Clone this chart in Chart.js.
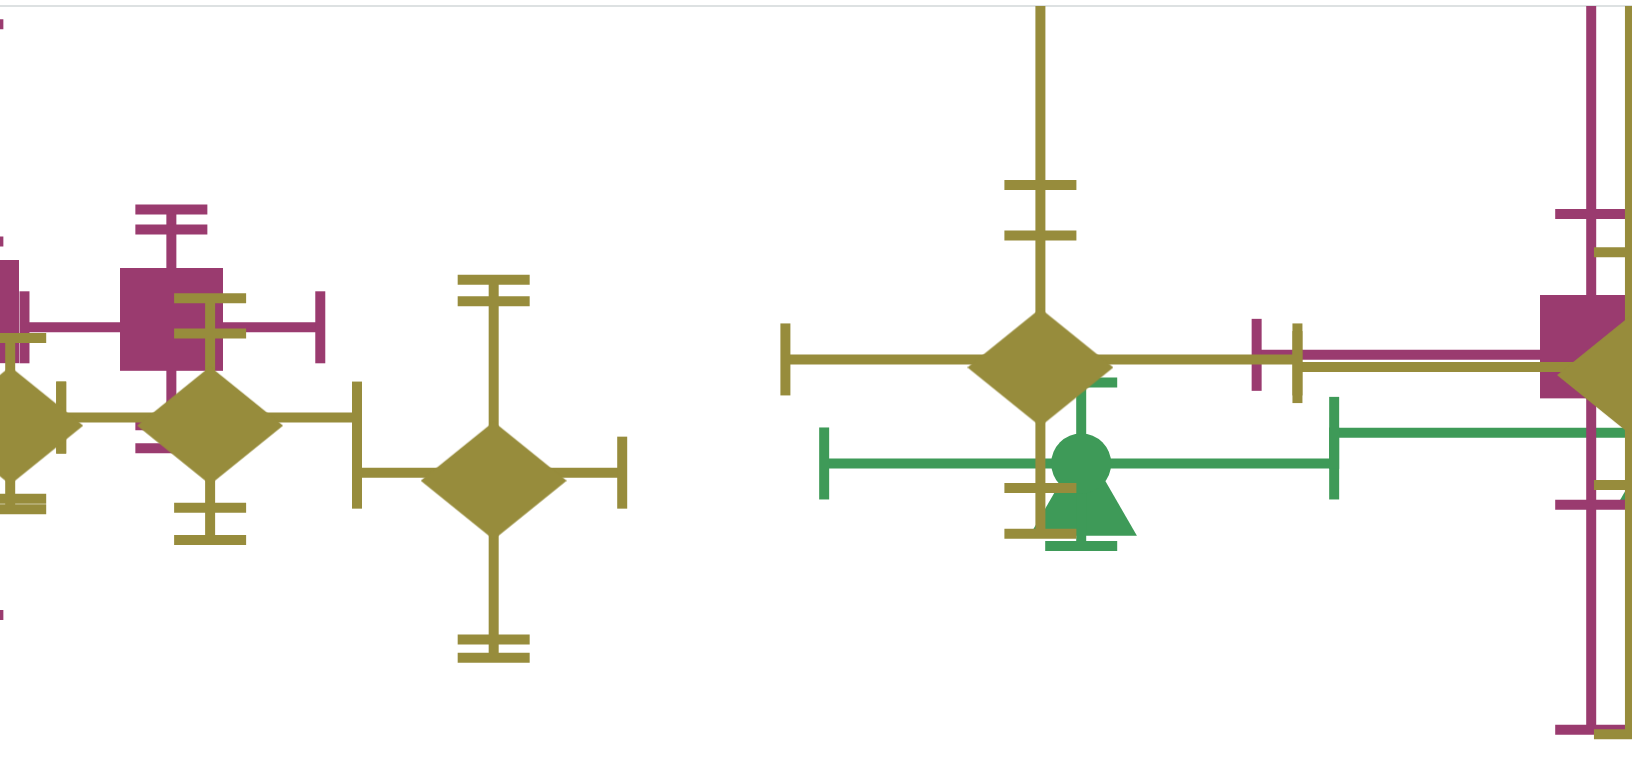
<!DOCTYPE html>
<html>
<head>
<meta charset="utf-8">
<script src="https://cdn.jsdelivr.net/npm/chart.js@4/dist/chart.umd.min.js"></script>
<style>
  html, body { margin: 0; padding: 0; background: #fff; overflow: hidden; }
  #plot { display: block; }
</style>
</head>
<body>
<canvas id="plot" width="1632" height="771"></canvas>
<script>
// olive series (diamonds)
const oliveX = [0.05, 1.03, 2.42, 5.10, 7.99];
const oliveY = [2.31, 2.31, 1.95, 2.69, 2.64];
const oliveXLow = [-0.25, 0.30, 1.75, 3.85, 6.36];
const oliveXHigh = [0.30, 1.75, 3.05, 6.36, 8.80];
const oliveYLow = [[1.78, 1.71], [1.72, 1.51], [0.86, 0.74], [1.85, 1.55], [1.87, 0.24]];
const oliveYHigh = [[2.83], [2.86, 3.09], [3.07, 3.21], [3.50, 3.83, 5.43], [3.39, 5.20]];

// wine series (squares)
const wineX = [-0.16, 0.84, 7.80];
const wineY = [2.95, 2.90, 2.72];
const wineXLow = [null, 0.12, 6.16];
const wineXHigh = [null, 1.57, 9.44];
const wineYLow = [[2.44, 1.02], [2.26, 2.11], [1.74, 0.27]];
const wineYHigh = [[3.46, 4.88], [3.54, 3.67], [3.64, 5.21]];

// green series (circles) + green triangles
const greenX = [5.30, 8.19];
const greenY = [2.01, 2.21];
const greenXLow = [4.04, 6.54];
const greenXHigh = [6.54, 9.80];
const greenYLow = [[1.47], [1.60]];
const greenYHigh = [[2.54], [2.80]];
const triX = [5.31, 8.19];
const triY = [1.74, 1.94];

const OLIVE = '#978c3c';
const WINE = '#9a3b6f';
const GREEN = '#3e9a58';
const CAP = 36;

function pts(xs, ys) {
    return xs.map((x, i) => ({ x: x, y: ys[i] }));
}

function errs(xs, xl, xh, yl, yh) {
    return xs.map((_, i) => ({ xLow: xl[i], xHigh: xh[i], yLow: yl[i], yHigh: yh[i] }));
}

// marker image; the shape sits `shift` px below (or above) the point
function marker(w, h, shift, color, shape) {
    let c = document.createElement('canvas');
    c.width = w;
    c.height = h + 2 * Math.abs(shift);
    let g = c.getContext('2d');
    let top = shift > 0 ? 2 * shift : 0;
    g.fillStyle = color;
    g.beginPath();
    if (shape == 'diamond') {
        g.moveTo(w / 2, top);
        g.lineTo(w, top + h / 2);
        g.lineTo(w / 2, top + h);
        g.lineTo(0, top + h / 2);
        g.closePath();
    } else {
        g.rect(0, top, w, h);
    }
    g.fill();
    return c;
}

const errorBars = {
    id: 'errorBars',
    beforeDatasetDraw(chart, args) {
        const ds = chart.data.datasets[args.index];
        if (!ds.errors) return;
        const { ctx, chartArea: a, scales } = chart;
        const xs = scales.x, ys = scales.y;
        ctx.save();
        ctx.beginPath();
        ctx.rect(a.left, a.top, a.right - a.left, a.bottom - a.top);
        ctx.clip();
        ctx.strokeStyle = ds.errorColor;
        ctx.lineWidth = 10;
        ctx.lineCap = 'butt';
        const seg = (x1, y1, x2, y2) => {
            ctx.beginPath();
            ctx.moveTo(x1, y1);
            ctx.lineTo(x2, y2);
            ctx.stroke();
        };
        ds.data.forEach((p, i) => {
            const e = ds.errors[i];
            const px = xs.getPixelForValue(p.x);
            const py = ys.getPixelForValue(p.y);
            if (e.xLow != null) {
                const l = xs.getPixelForValue(e.xLow);
                const r = xs.getPixelForValue(e.xHigh);
                seg(l, py, r, py);
                seg(l, py - CAP, l, py + CAP);
                seg(r, py - CAP, r, py + CAP);
            }
            const vals = e.yLow.concat(e.yHigh).map(v => ys.getPixelForValue(v));
            if (vals.length) {
                seg(px, Math.min(...vals), px, Math.max(...vals));
                vals.forEach(v => seg(px - CAP, v, px + CAP, v));
            }
        });
        ctx.restore();
    }
};

const data = {
    datasets: [{
        label: 'olive',
        data: pts(oliveX, oliveY),
        pointStyle: marker(146, 118, 8, OLIVE, 'diamond'),
        pointRadius: 80,
        pointBorderWidth: 0,
        clip: 0,
        errors: errs(oliveX, oliveXLow, oliveXHigh, oliveYLow, oliveYHigh),
        errorColor: OLIVE,
    }, {
        label: 'wine',
        data: pts(wineX, wineY),
        pointStyle: marker(103, 103, -8, WINE, 'square'),
        pointRadius: 80,
        pointBorderWidth: 0,
        clip: 0,
        errors: errs(wineX, wineXLow, wineXHigh, wineYLow, wineYHigh),
        errorColor: WINE,
    }, {
        label: 'green',
        data: pts(greenX, greenY),
        pointStyle: 'circle',
        pointRadius: 30,
        pointBorderWidth: 0,
        pointBackgroundColor: GREEN,
        clip: 0,
        errors: errs(greenX, greenXLow, greenXHigh, greenYLow, greenYHigh),
        errorColor: GREEN,
    }, {
        label: 'green triangles',
        data: pts(triX, triY),
        pointStyle: 'triangle',
        pointRadius: 62,
        pointBorderWidth: 0,
        pointBackgroundColor: GREEN,
        clip: 0,
    }]
};

const config = {
    type: 'scatter',
    data: data,
    plugins: [errorBars],
    options: {
        responsive: false,
        animation: false,
        events: [],
        layout: { autoPadding: false, padding: { top: 6, left: 0, right: 0, bottom: 0 } },
        plugins: {
            legend: { display: false },
            tooltip: { enabled: false },
        },
        scales: {
            x: {
                type: 'linear',
                position: 'top',
                min: 0,
                max: 8,
                ticks: { display: false },
                grid: { display: false, drawTicks: false },
                border: { display: true, color: '#dde1e2', width: 2 },
            },
            y: {
                type: 'linear',
                min: 0,
                max: 5,
                display: false,
            }
        }
    }
};

new Chart('plot', config);
</script>
</body>
</html>
